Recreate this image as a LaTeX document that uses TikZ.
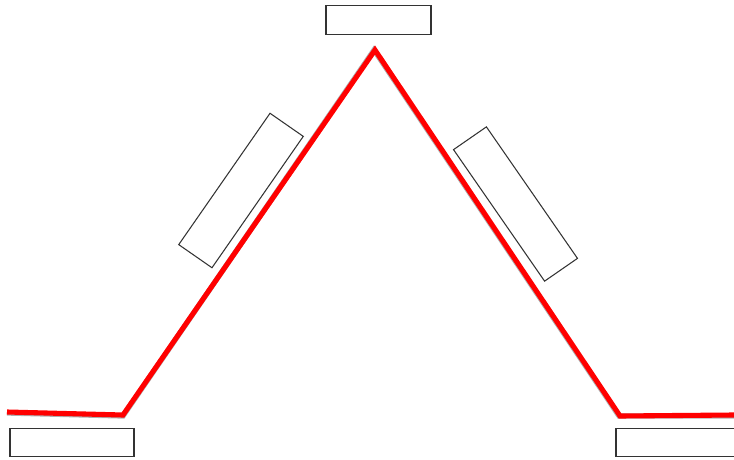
\documentclass[tikz,border=0pt]{standalone}
\usepackage{xcolor}
\definecolor{beamRed}{HTML}{FF0000}
\definecolor{beamShade}{HTML}{8A8A8A}
\usepackage{tikz}
\usetikzlibrary{calc,positioning}

\begin{document}
\begin{tikzpicture}[x=0.02cm,y=-0.02cm,
    optbox/.style={draw=black!80,line width=0.6pt,inner sep=0pt,minimum width=#1,minimum height=0.57cm},
    optbox/.default=2.48cm,
    beam/.style={beamRed,line width=2.9pt,line join=miter},
    beamshadow/.style={beamShade!70,line width=3.0pt,line join=miter}]
  \path[use as bounding box] (0,0) rectangle (734,460);

  % mirrors
  \node[optbox=2.1cm] (mtop) at (378.5,20) {};
  \node[optbox] (mleft) at (72,442.5) {};
  \node[optbox] (mright) at (678,442.5) {};
  \node[optbox=3.2cm,minimum height=0.81cm,rotate=55.2] (pleft) at (241,190.5) {};
  \node[optbox=3.2cm,minimum height=0.8cm,rotate=-55.3] (pright) at (515.5,204) {};

  % beam path
  \coordinate (in) at (7,412);
  \coordinate (b1) at (123,415);
  \coordinate (apex) at (375,50);
  \coordinate (b2) at (620,416);
  \coordinate (out) at (734,415);

  \draw[beamshadow] ($(in)+(0,1)$) -- ($(b1)+(0,1)$) -- ($(apex)+(-1,0)$) -- ($(b2)+(-1,0)$) -- ($(out)+(0,1)$);
  \draw[beam] (in) -- (b1) -- (apex) -- (b2) -- (out);
\end{tikzpicture}
\end{document}
